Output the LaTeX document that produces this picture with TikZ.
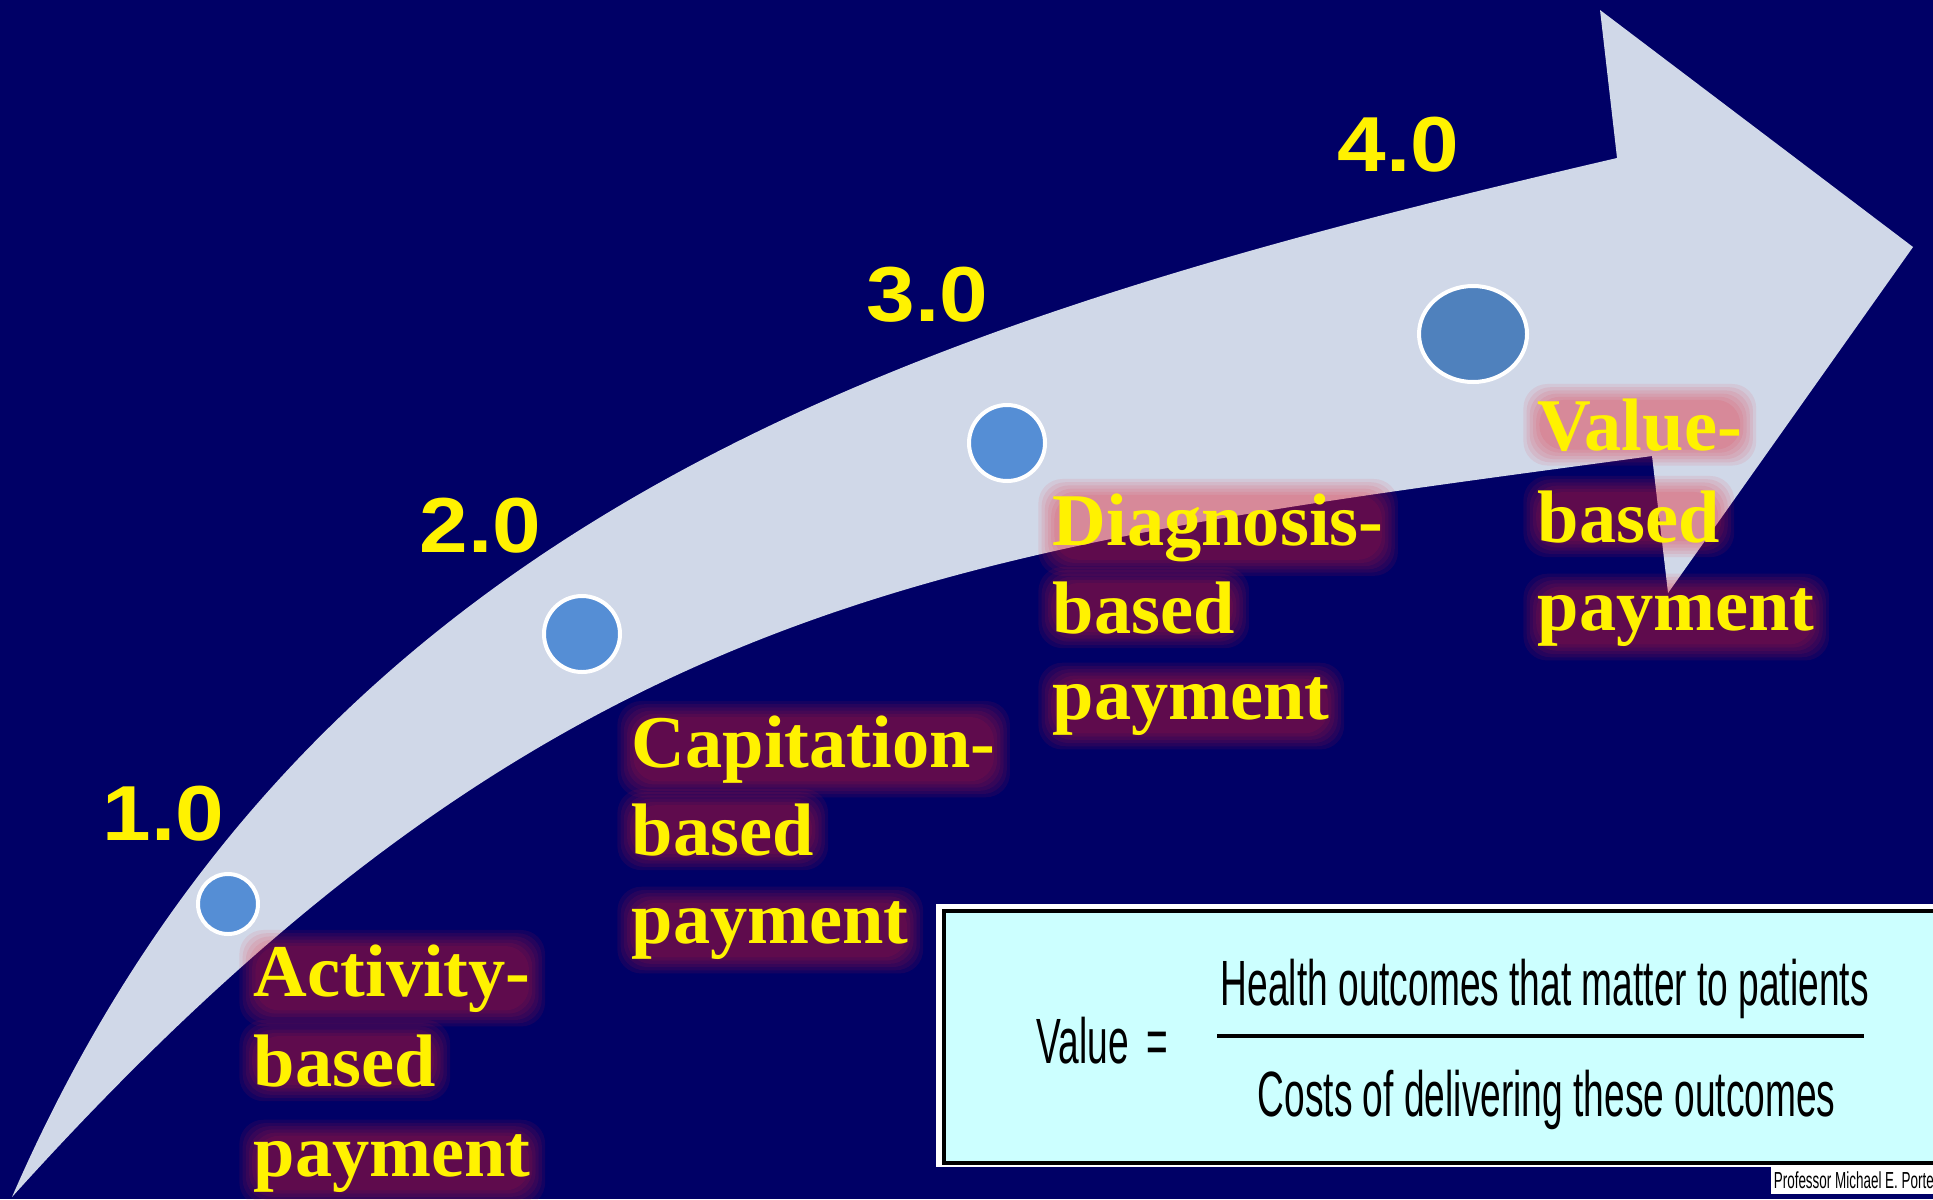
\documentclass[tikz,border=0pt]{standalone}
\usepackage{fontspec}
\usetikzlibrary{shapes.geometric}
\newfontfamily\numfont[FakeStretch=1.12]{Liberation Sans}
\newfontfamily\lblfont{Liberation Serif}
\newfontfamily\narrowfont[FakeStretch=0.58]{Liberation Sans}
\definecolor{bgnavy}{HTML}{000066}
\definecolor{arrowfill}{HTML}{D0D8E8}
\definecolor{dotblue}{HTML}{558ED5}
\definecolor{dotdark}{HTML}{4F81BD}
\definecolor{glowred}{HTML}{E82030}
\definecolor{boxcyan}{HTML}{CCFFFF}
\pgfdeclarelayer{back}
\pgfdeclarelayer{glowlayer}
\pgfsetlayers{back,glowlayer,main}
\tikzset{
  numlbl/.style={text=yellow, font=\numfont\bfseries\fontsize{19.5}{22}\selectfont, inner sep=0, anchor=base west},
  paylbl/.style={font=\lblfont\bfseries\fontsize{18.6}{22}\selectfont, inner sep=0, anchor=base west},
  milestone/.style={circle, fill=dotblue, draw=white, line width=1pt, inner sep=0},
  boxtxt/.style={font=\narrowfont\fontsize{16}{19}\selectfont, inner sep=0, anchor=base west, text=black},
  glowblob/.style={fill=glowred, opacity=0.085, rounded corners=6pt},
}
\newcommand\glowline[4]{%
  \node[paylbl, text=yellow] (#1) at (#2,#3) {#4};
  \begin{pgfonlayer}{glowlayer}
    \foreach \gs in {-0.6,0.2,1.0,1.8,2.6,3.4}{%
      \fill[glowblob] ([shift={(-\gs pt,-\gs pt)}]#1.south west) rectangle ([shift={(\gs pt,\gs pt)}]#1.north east);}
  \end{pgfonlayer}}
\begin{document}
\begin{tikzpicture}[x=0.25pt, y=-0.25pt]
\useasboundingbox (0,0) rectangle (1933,1199);
\begin{pgfonlayer}{back}
\fill[bgnavy] (0,0) rectangle (1933,1199);
% big curved arrow
\fill[arrowfill] (12,1197) .. controls (312,507) and (917,321) .. (1617,158)
  -- (1600,10) -- (1913,247) -- (1668,593) -- (1652,456)
  .. controls (952,551) and (562,587) .. (12,1197) -- cycle;
\end{pgfonlayer}
\clip (0,0) rectangle (1933,1199);
% milestones
\node[milestone, minimum size=15pt] (d1) at (228,904) {};
\node[milestone, minimum size=19pt] (d2) at (582,634) {};
\node[milestone, minimum size=19pt] (d3) at (1007,443) {};
\node[milestone, ellipse, fill=dotdark, minimum width=27pt, minimum height=24pt] (d4) at (1473,334) {};
% numbers
\node[numlbl] (n1) at (102,840) {1.0};
\node[numlbl] (n2) at (419,552) {2.0};
\node[numlbl] (n3) at (866,321) {3.0};
\node[numlbl] (n4) at (1337,171) {4.0};
% labels with glow
\glowline{a1}{253}{996}{Activity-}
\glowline{a2}{253}{1086}{based}
\glowline{a3}{253}{1176}{payment}
\glowline{c1}{631}{767}{Capitation-}
\glowline{c2}{631}{855}{based}
\glowline{c3}{631}{943}{payment}
\glowline{g1}{1052}{545}{Diagnosis-}
\glowline{g2}{1052}{633}{based}
\glowline{g3}{1052}{719}{payment}
\glowline{v1}{1537}{450}{Value-}
\glowline{v2}{1537}{542}{based}
\glowline{v3}{1537}{630}{payment}
% value formula box
\node[fill=white, inner sep=0, minimum width=265pt, minimum height=65.75pt, anchor=north west] (boxbg) at (935,903) {};
\node[fill=boxcyan, draw=black, line width=1pt, inner sep=0, minimum width=262pt, minimum height=63pt, anchor=north west] (box) at (942,909) {};
\node[boxtxt] (vlabel) at (1036,1063) {Value};
\node[boxtxt] (veq) at (1146,1063) {=};
\node[boxtxt] (num) at (1220,1005) {Health outcomes that matter to patients};
\coordinate (fl) at (1217,1036);
\coordinate (fr) at (1864,1036);
\draw[line width=1pt] (fl) -- (fr);
\node[boxtxt] (den) at (1257,1116) {Costs of delivering these outcomes};
% credit
\node[fill=white, inner sep=0, minimum width=50pt, minimum height=7pt, anchor=north west] (creditbg) at (1770,1165) {};
\node[font=\narrowfont\fontsize{5.8}{7}\selectfont, inner sep=0, anchor=base west] (credit) at (1773,1188) {Professor Michael E. Porte};
\end{tikzpicture}
\end{document}
